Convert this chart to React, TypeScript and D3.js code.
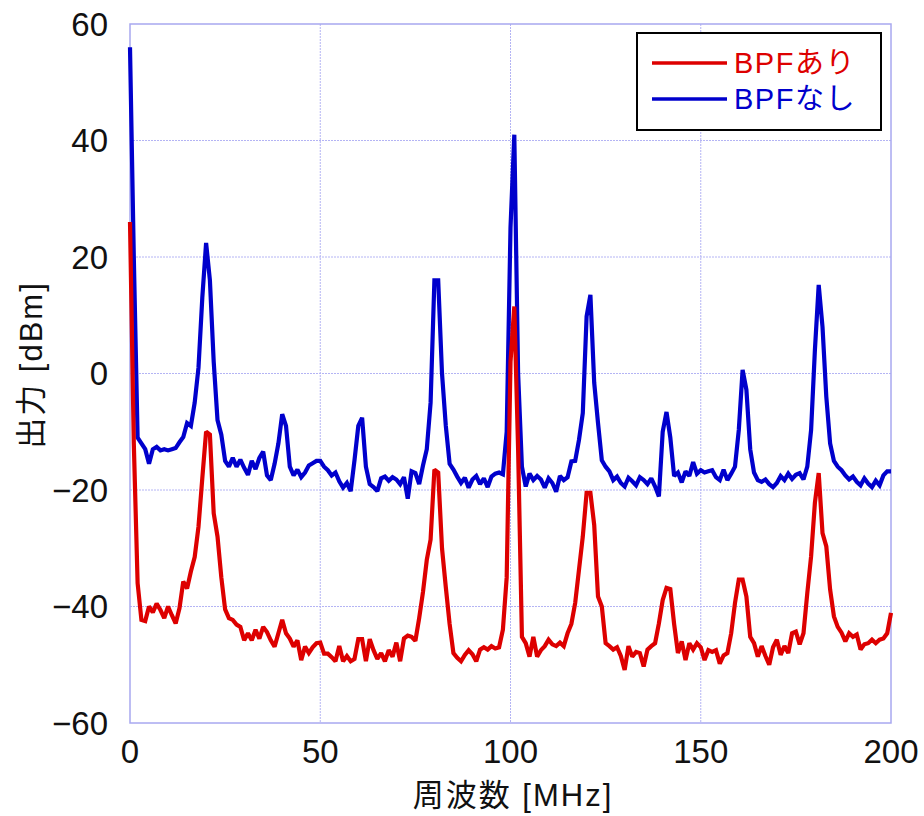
import React from "react";
import * as d3 from "d3";

const freqStart = 0;
const freqStep = 1; // MHz

const bpfOn: number[] = [
  26, -12, -36, -42.3, -42.5, -40, -41, -39.5, -40.6, -42,
  -40, -41.5, -42.9, -40.3, -35.7, -36.9, -34, -31.5, -26.3, -18,
  -10, -10.5, -24, -28, -35, -40.5, -42, -42.3, -43.1, -43.5,
  -45.8, -44.6, -45.8, -44, -45.5, -43.5, -44.4, -45.8, -46.9, -44.6,
  -42.3, -44.6, -45.5, -46.9, -45.8, -49.2, -46.9, -48, -47, -46.3,
  -46.2, -48.1, -48.1, -48.7, -49.4, -46.8, -49.4, -48.5, -49.4, -49,
  -45.6, -45.6, -49.4, -45.6, -47.5, -49, -48, -49.4, -47.5, -48.6,
  -46.2, -49.4, -45.5, -45, -45.2, -45.9, -42, -37.5, -32, -28.5,
  -16.5, -17, -30, -36.7, -43, -48, -48.8, -49.4, -48.3, -47.5,
  -48.2, -49.4, -47.4, -47, -47.4, -46.8, -47.2, -47, -44, -35,
  2, 11.5, -13, -45.2, -46.3, -48.6, -45.2, -48.6, -47.5, -46.8,
  -45.7, -46.5, -46.8, -46.2, -46.8, -44.6, -43, -39.4, -33.7, -28,
  -20.5, -20.5, -26, -38.3, -40, -46.3, -46.8, -47.4, -47, -48.5,
  -50.9, -46.8, -48.6, -47.8, -48, -50.3, -47.4, -46.8, -46.3, -42.9,
  -38.9, -36.8, -37, -43, -48, -46, -49.2, -46.3, -47.4, -46.3,
  -47, -49.2, -47.5, -47.8, -47.5, -49.8, -48.4, -48, -44.6, -39.4,
  -35.4, -35.4, -38.3, -45.2, -46.3, -48.6, -46.8, -48.5, -50, -47,
  -45.7, -48.3, -46.8, -48, -44.6, -44.3, -46.5, -44.6, -37.7, -31.4,
  -22.2, -17.1, -27.4, -29.7, -37.1, -41.7, -43.5, -44.5, -46, -44.6,
  -45.2, -44.8, -47.4, -46.5, -46.3, -45.7, -46.3, -45.7, -45.5, -44.6,
  -41.1,
];

const bpfOff: number[] = [
  56, 20, -11, -12, -13, -15.5, -13, -12.6, -13.2, -13,
  -13.2, -13, -12.8, -11.8, -10.9, -8.5, -9, -5, 1, 13,
  22.4, 16, 2, -8, -10.5, -15, -16, -14.5, -16, -14.8,
  -16.2, -17.4, -15, -16.4, -14.5, -13.4, -17.5, -18.3, -15.5, -12,
  -7, -9, -16, -17.5, -16.5, -17.8, -17, -15.8, -15.4, -15,
  -15, -16, -16.6, -17.5, -17, -18.5, -19.6, -18.8, -20.2, -14.9,
  -9, -7.6, -16, -19, -19.5, -20.2, -18, -17.7, -18.4, -17.8,
  -18.2, -19, -17.8, -21.5, -16.8, -17.1, -19, -15.8, -13, -5,
  16, 16, 0, -9, -15.5, -16.5, -17.7, -18.8, -17.9, -19.6,
  -18.2, -17.6, -19, -18, -19.5, -17.7, -17.2, -17, -17.3, -10,
  25, 41, 0, -16, -19.4, -17.2, -18.3, -17.6, -18.2, -19.6,
  -18, -18.8, -20.3, -17.6, -18.3, -17.8, -15.1, -15, -11.4, -6.8,
  9.8, 13.5, -1.6, -8.5, -14.9, -16, -16.8, -18.3, -17.7, -18.8,
  -19.4, -17.9, -18.5, -19.2, -17.8, -18.3, -19, -18, -19.4, -21.1,
  -10, -6.6, -11, -17.6, -17, -18.7, -16.8, -17.6, -15.2, -17.2,
  -16.6, -17, -16.8, -16.6, -17.8, -18.3, -16.5, -18.3, -17.2, -16,
  -9.7, 0.6, -2.8, -13, -17, -18.3, -18.6, -18.2, -19, -19.5,
  -18.8, -17.6, -18.3, -17.2, -18.1, -17.4, -17.1, -18.2, -16, -9.7,
  4, 15.2, 8, -4, -12, -15, -16, -16.6, -17.5, -18.2,
  -17.7, -18.6, -19.2, -18, -18.9, -19.5, -18.4, -19.2, -17.5, -16.8,
  -16.8,
];

const xTicks = [0, 50, 100, 150, 200];
const yTicks = [-60, -40, -20, 0, 20, 40, 60];
const seriesNames = ["BPFあり", "BPFなし"];
const seriesColors = ["#dd0000", "#0000cc"];
const xLabel = "周波数 [MHz]";
const yLabel = "出力 [dBm]";

const W = 924;
const H = 816;
const M = { left: 130, right: 891, top: 24, bottom: 723 };
const FONT = "'Liberation Sans', Arial, 'Noto Sans CJK JP', sans-serif";

export default function App() {
  const x = d3.scaleLinear().domain([0, 200]).range([M.left, M.right]);
  const y = d3.scaleLinear().domain([-60, 60]).range([M.bottom, M.top]);
  const line = d3
    .line<number>()
    .x((_, i) => x(freqStart + i * freqStep))
    .y((d) => y(d))
    .curve(d3.curveLinear);

  return (
    <svg
      width={W}
      height={H}
      style={{ position: "absolute", left: 0, top: 0, display: "block", background: "#fff" }}
    >
      <rect x={0} y={0} width={W} height={H} fill="#fff" />
      {xTicks.slice(1, -1).map((t) => (
        <line key={"gx" + t} x1={x(t)} x2={x(t)} y1={M.top} y2={M.bottom} stroke="#b4b4f4" strokeWidth={1} strokeDasharray="2,1" />
      ))}
      {yTicks.slice(1, -1).map((t) => (
        <line key={"gy" + t} x1={M.left} x2={M.right} y1={y(t)} y2={y(t)} stroke="#b4b4f4" strokeWidth={1} strokeDasharray="2,1" />
      ))}
      <rect x={M.left} y={M.top} width={M.right - M.left} height={M.bottom - M.top} fill="none" stroke="#a8a8f0" strokeWidth={1.5} />

      <path d={line(bpfOff) || ""} fill="none" stroke={seriesColors[1]} strokeWidth={4.2} strokeLinejoin="miter" strokeMiterlimit={2} />
      <path d={line(bpfOn) || ""} fill="none" stroke={seriesColors[0]} strokeWidth={4.2} strokeLinejoin="miter" strokeMiterlimit={2} />

      {yTicks.map((t) => (
        <text key={"ty" + t} x={108} y={y(t)} dy="0.36em" textAnchor="end" fontFamily={FONT} fontSize={33} fill="#111">
          {t < 0 ? "\u2212" + Math.abs(t) : String(t)}
        </text>
      ))}
      {xTicks.map((t) => (
        <text key={"tx" + t} x={x(t)} y={763} textAnchor="middle" fontFamily={FONT} fontSize={33} fill="#111">
          {t}
        </text>
      ))}

      <text x={513} y={806} textAnchor="middle" fontFamily={FONT} fontSize={31} letterSpacing={2} fill="#111">
        {xLabel}
      </text>
      <text
        transform={`translate(42, 365) rotate(-90)`}
        textAnchor="middle"
        fontFamily={FONT}
        fontSize={31}
        letterSpacing={2}
        fill="#111"
      >
        {yLabel}
      </text>

      <rect x={637} y={33} width={244} height={97} fill="#fff" stroke="#000" strokeWidth={2} />
      {seriesNames.map((n, i) => (
        <g key={n}>
          <line x1={652} x2={727} y1={63 + i * 36} y2={63 + i * 36} stroke={seriesColors[i]} strokeWidth={3.6} />
          <text x={734} y={63 + i * 36} dy="0.36em" fontFamily={FONT} fontSize={29} letterSpacing={1.5} fill={seriesColors[i]}>
            {n}
          </text>
        </g>
      ))}
    </svg>
  );
}
